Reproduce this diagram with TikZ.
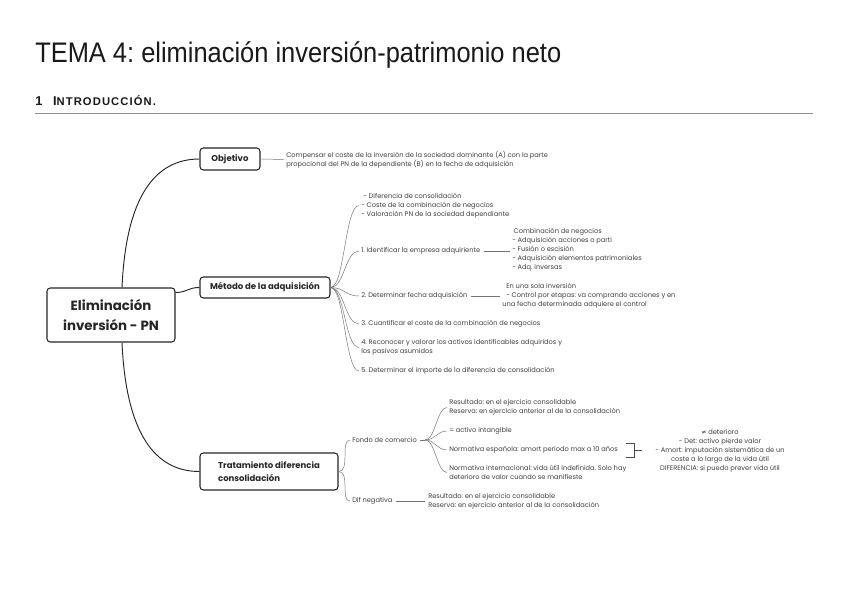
\documentclass[tikz,border=0pt]{standalone}
\usepackage{fontspec}
\setmainfont{Poppins}
\newfontfamily\titlefont{Liberation Sans}[FakeStretch=0.9]
\newfontfamily\headfont{Liberation Sans}
\newfontfamily\headscfont{Liberation Sans}[LetterSpace=10]
\frenchspacing
\begin{document}
\frenchspacing
\begin{tikzpicture}[x=0.75pt,y=-0.75pt,
  box/.style={draw=black!85, line width=0.8pt, rounded corners=2.5pt, fill=white, inner sep=0pt, align=center, text=black!85, font=\fontsize{6.4}{9.75}\selectfont\bfseries},
  txt/.style={inner sep=0pt, anchor=west, align=left, text=black!75, font=\fontsize{5}{6.75}\selectfont},
  br/.style={draw=black!55, line width=0.35pt},
  mainline/.style={draw=black!85, line width=0.7pt}]
\useasboundingbox (0,0) rectangle (848,599);
\fill[white] (0,0) rectangle (848,599);
% title and heading
\node[inner sep=0pt, anchor=base west, text=black!90, font=\titlefont\fontsize{21.2}{24}\selectfont] (title) at (35,63) {TEMA 4: eliminación inversión-patrimonio neto};
\node[inner sep=0pt, anchor=base west, text=black!90, font=\headfont\bfseries\fontsize{9.6}{11}\selectfont] (head) at (35,106) {1\hspace{8pt}I{\headscfont\bfseries\fontsize{8.4}{9}\selectfont NTRODUCCIÓN.}};
\coordinate (hl) at (35,113);
\coordinate (hr) at (813,113);
\draw[black!45, line width=0.6pt] (hl) -- (hr);
% main boxes
\node[box, minimum width=96pt, minimum height=40.5pt, font=\fontsize{10}{14.5}\selectfont\bfseries] (main) at (111,315) {Eliminación\\inversión - PN};
\node[box, minimum width=45pt, minimum height=16.5pt] (obj) at (230,159) {Objetivo};
\node[box, minimum width=97.5pt, minimum height=15.75pt] (met) at (265,287.5) {Método de la adquisición};
\node[box, minimum width=103.5pt, minimum height=27.75pt, align=left] (tra) at (269,471.5) {Tratamiento diferencia\\consolidación};
% main connectors
\draw[mainline] ([xshift=8.25pt]main.north) .. controls +(4,-90) and +(-45,0) .. (obj.west);
\draw[mainline] ([yshift=-3.75pt]main.north east) .. controls +(12,0) and +(-12,0) .. (met.west);
\draw[mainline] ([xshift=8.25pt]main.south) .. controls +(4,90) and +(-45,0) .. (tra.west);
% Objetivo
\node[txt] (objt) at (286,159.5) {Compensar el coste de la inversión de la sociedad dominante (A) con la parte\\propocional del PN de la dependiente (B) en la fecha de adquisición};
\draw[br] (obj.east) -- ([xshift=-1.5pt]objt.west);
% Metodo children
\node[txt] (m0) at (361,205.5) {\hspace{1.5pt}- Diferencia de consolidación\\- Coste de la combinación de negocios\\- Valoración PN de la sociedad dependiante};
\node[txt] (m1) at (361,251) {1. Identificar la empresa adquiriente};
\node[txt] (m1b) at (512,250) {\hspace{1pt}Combinación de negocios\\- Adquisición acciones o parti\\- Fusión o escisión\\- Adquisición elementos patrimoniales\\- Adq. inversas};
\node[txt] (m2) at (361,296) {2. Determinar fecha adquisición};
\node[txt] (m2b) at (502,296) {\hspace{3pt}En una sola inversión\\\hspace{3pt}- Control por etapas: va comprando acciones y en\\una fecha determinada adquiere el control};
\node[txt] (m3) at (361,324) {3. Cuantificar el coste de la combinación de negocios};
\node[txt] (m4) at (361,347.5) {4. Reconocer y valorar los activos identificables adquiridos y\\los pasivos asumidos};
\node[txt] (m5) at (361,371) {5. Determinar el importe de la diferencia de consolidación};
\foreach \t in {m0,m1,m2,m3,m4,m5}
  \draw[br] (met.east) .. controls +(14,0) and +(-14,0) .. ([xshift=-1.5pt]\t.west);
\draw[br] ([xshift=2.5pt]m1.east) -- ([xshift=-1.5pt]m1b.west |- m1.east);
\draw[br] ([xshift=2.5pt]m2.east) -- ([xshift=-1.5pt]m2b.west |- m2.east);
% Tratamiento children
\node[txt] (fc) at (352,440) {Fondo de comercio};
\node[txt] (dn) at (352,501) {Dif negativa};
\foreach \t in {fc,dn}
  \draw[br] (tra.east) .. controls +(12,0) and +(-10,0) .. ([xshift=-1.5pt]\t.west);
\coordinate (fch) at ([xshift=6pt]fc.east);
\draw[br] ([xshift=2pt]fc.east) -- (fch);
\node[txt] (f1) at (449,407.5) {Resultado: en el ejercicio consolidable\\Reserva: en ejercicio anterior al de la consolidación};
\node[txt] (f2) at (449,431) {= activo intangible};
\node[txt] (f3) at (449,450) {Normativa española: amort periodo max a 10 años};
\node[txt] (f4) at (449,472.5) {Normativa internacional: vida útil indefinida. Solo hay\\deterioro de valor cuando se manifieste};
\foreach \t in {f1,f2,f3,f4}
  \draw[br] (fch) .. controls +(10,0) and +(-10,0) .. ([xshift=-1.5pt]\t.west);
\node[txt] (d1) at (428,501.5) {Resultado: en el ejercicio consolidable\\Reserva: en ejercicio anterior al de la consolidación};
\draw[br] ([xshift=2.5pt]dn.east) -- ([xshift=-2pt]d1.west |- dn.east);
% bracket
\coordinate (b1) at (626,443);
\coordinate (b2) at (634,443);
\coordinate (b3) at (634,457);
\coordinate (b4) at (626,457);
\coordinate (b5) at (634,450);
\coordinate (b6) at (642,450);
\draw[black!70, line width=0.5pt] (b1) -- (b2) -- (b3) -- (b4);
\draw[black!70, line width=0.5pt] (b5) -- (b6);
\node[txt, anchor=center, align=center] (bt) at (720,450.5) {{\fontspec{DejaVu Sans}\fontsize{4.6}{6.75}\selectfont≠} deterioro\\- Det: activo pierde valor\\- Amort: imputación sistemática de un\\coste a lo largo de la vida útil\\DIFERENCIA: si puedo prever vida útil};
\end{tikzpicture}
\end{document}
